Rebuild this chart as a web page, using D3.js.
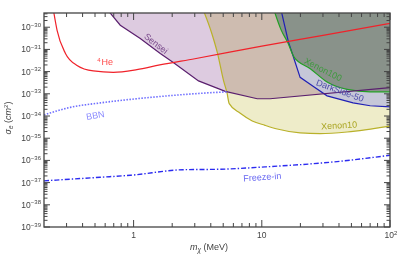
<!DOCTYPE html>
<html>
<head>
<meta charset="utf-8">
<script src="https://cdn.jsdelivr.net/npm/d3@7"></script>
<style>
  body { margin: 0; background: #fff; }
  text { font-family: "Liberation Sans", Arial, sans-serif; }
</style>
</head>
<body>
<div id="chart"></div>
<script>
// Mass in MeV, cross section in cm^2
const heMass = [0.238, 0.253, 0.294, 0.362, 0.485, 0.695, 1.06, 1.6, 3, 10, 30, 100];
const heSigma = [5e-30, 7.2e-31, 6.6e-32, 1.9e-32, 1.07e-32, 9.3e-33, 1.23e-32, 2.0e-32, 3.8e-32, 1.4e-31, 4.3e-31, 1.5e-30];

const senseiMass = [0.623, 0.787, 1.127, 1.615, 2.04, 3.21, 5.19, 9.21, 11.6, 100];
const senseiSigma = [6.3e-30, 1.23e-30, 3.1e-31, 6.6e-32, 2.6e-32, 3.8e-33, 1.29e-33, 6.0e-34, 6.0e-34, 1.9e-33];

const xenon10Mass = [3.48, 4.08, 4.52, 5.03, 5.35, 5.57, 6.79, 8.42, 10.6, 13.2, 19.9, 28.5, 46.3, 100];
const xenon10Sigma = [6.3e-30, 5.1e-31, 6.5e-32, 3.9e-33, 1.12e-33, 3.6e-34, 1.32e-34, 6.0e-35, 3.8e-35, 2.6e-35, 1.74e-35, 1.62e-35, 1.9e-35, 3.5e-35];

const xenon100Mass = [12.4, 14.2, 15.9, 17.9, 23.9, 32.3, 46.3, 70, 100];
const xenon100Sigma = [6.3e-30, 7.2e-31, 2.1e-31, 4.4e-32, 1.35e-32, 3.4e-33, 1.58e-33, 1.23e-33, 1.23e-33];

const darksideMass = [14.1, 16.15, 17.57, 19.9, 25.1, 32.3, 51.5, 70, 100];
const darksideSigma = [6.3e-30, 2.1e-31, 4.9e-32, 5.5e-33, 2.2e-33, 8.1e-34, 3.9e-34, 2.9e-34, 2.6e-34];

const bbnMass = [0.2, 0.321, 0.55, 0.942, 2.04, 3.31, 5.47];
const bbnSigma = [1.12e-34, 2.45e-34, 3.9e-34, 5.6e-34, 8.5e-34, 1.05e-33, 1.23e-33];

const freezeMass = [0.2, 0.55, 0.942, 2.44, 4.74, 10.6, 36, 100];
const freezeSigma = [1.2e-37, 1.74e-37, 2.14e-37, 3.8e-37, 4.0e-37, 5.1e-37, 8.5e-37, 1.7e-36];

const xTickValues = [1, 10, 100];
const xTickLabels = ["1", "10", "10"];
const xTickSups = ["", "", "2"];
const yTickExponents = [-39, -38, -37, -36, -35, -34, -33, -32, -31, -30];

// curve labels: text, mass, sigma, rotation
const labelText = ["He", "Sensei", "BBN", "Freeze-in", "Xenon10", "Xenon100", "DarkSide-50"];
const labelMass = [0.6, 1.5, 0.503, 10.1, 40.1, 30.1, 40.8];
const labelSigma = [2.6e-32, 1.85e-31, 1.07e-34, 1.8e-37, 3.8e-35, 1.26e-32, 1.4e-33];
const labelAngle = [0, 38, -10, -4, -3, 27, 20];
const labelColor = ["#ff4a4a", "#7a4a8c", "#8a8aff", "#6a6af2", "#aaa522", "#3f9a3f", "#4a4aa8"];

const margin = { top: 13, right: 9, bottom: 28, left: 44 },
  width = 399 - margin.left - margin.right,
  height = 255 - margin.top - margin.bottom;

const svg = d3.select("#chart")
  .append("svg")
  .attr("width", width + margin.left + margin.right)
  .attr("height", height + margin.top + margin.bottom)
  .append("g")
  .attr("transform", `translate(${margin.left},${margin.top})`);

const x = d3.scaleLog().domain([0.2, 100]).range([0, width]);
const y = d3.scaleLog().domain([1e-39, Math.pow(10, -29.36)]).range([height, 0]);

svg.append("clipPath").attr("id", "plot-clip")
  .append("rect").attr("width", width).attr("height", height);

const plot = svg.append("g").attr("clip-path", "url(#plot-clip)");

const zip = (ms, ss) => ms.map((m, i) => [m, ss[i]]);
const lineSmooth = d3.line().x(d => x(d[0])).y(d => y(d[1])).curve(d3.curveMonotoneX);
const lineStraight = d3.line().x(d => x(d[0])).y(d => y(d[1]));

const sigmaTop = 1e-29;

// region above a bound, closed along the top
function regionPath(ms, ss, gen) {
  const pts = zip(ms, ss);
  const last = pts[pts.length - 1];
  const first = pts[0];
  return gen(pts) + `L${x(last[0])},${y(sigmaTop)}L${x(first[0])},${y(sigmaTop)}Z`;
}

// Filled regions
plot.append("path")
  .attr("d", regionPath(senseiMass, senseiSigma, lineStraight))
  .attr("fill", "#ddcbe0")
  .style("mix-blend-mode", "multiply");

plot.append("path")
  .attr("d", regionPath(xenon10Mass, xenon10Sigma, lineSmooth))
  .attr("fill", "#eeecc9")
  .style("mix-blend-mode", "multiply");

plot.append("path")
  .attr("d", regionPath(darksideMass, darksideSigma, lineStraight))
  .attr("fill", "#c6c7d8");

plot.append("path")
  .attr("d", regionPath(xenon100Mass, xenon100Sigma, lineSmooth))
  .attr("fill", "#89928a");

// Curves
function drawLine(ms, ss, gen, color, w, dash) {
  plot.append("path")
    .attr("d", gen(zip(ms, ss)))
    .attr("fill", "none")
    .attr("stroke", color)
    .attr("stroke-width", w)
    .attr("stroke-dasharray", dash || null);
}

drawLine(xenon10Mass, xenon10Sigma, lineSmooth, "#b9b12a", 1.2);
drawLine(darksideMass, darksideSigma, lineStraight, "#2020b4", 1.2);
drawLine(xenon100Mass, xenon100Sigma, lineSmooth, "#22a022", 1.2);
drawLine(senseiMass, senseiSigma, lineStraight, "#5a1f6e", 1.2);
drawLine(heMass, heSigma, lineSmooth, "#f0222a", 1.2);
drawLine(bbnMass, bbnSigma, lineSmooth, "#6f6fff", 1.6, "1.5,1.5");
drawLine(freezeMass, freezeSigma, lineSmooth, "#2b2bf0", 1.4, "5,2,1.4,2");

// Curve labels
labelText.forEach((t, i) => {
  const lx = x(labelMass[i]), ly = y(labelSigma[i]);
  const txt = svg.append("text")
    .attr("transform", `translate(${lx},${ly}) rotate(${labelAngle[i]})`)
    .attr("text-anchor", "middle")
    .attr("dy", "0.35em")
    .attr("fill", labelColor[i])
    .style("font-size", "9px");
  if (t === "He") {
    txt.append("tspan").attr("dy", "-0.1em").style("font-size", "6px").text("4");
    txt.append("tspan").attr("dx", 1).attr("dy", "3").text("He");
  } else {
    txt.text(t);
  }
});

// Frame
svg.append("rect")
  .attr("width", width)
  .attr("height", height)
  .attr("fill", "none")
  .attr("stroke", "#444")
  .attr("stroke-width", 1.3);

// Ticks (inward, on all four sides)
const xMinor = [];
[0.1, 1, 10].forEach(d => { for (let j = 2; j <= 9; j++) { const v = j * d; if (v > 0.2 && v < 100) xMinor.push(v); } });
const yMinor = [];
for (let k = -40; k <= -30; k++) { for (let j = 2; j <= 9; j++) { const v = j * Math.pow(10, k); if (v > 1e-39 && v < y.domain()[1]) yMinor.push(v); } }
const yMajor = yTickExponents.map(e => Math.pow(10, e));

function tickGroup(values, len, side) {
  values.forEach(v => {
    let x1, x2, y1, y2;
    if (side === "bottom") { x1 = x2 = x(v); y1 = height; y2 = height - len; }
    if (side === "top") { x1 = x2 = x(v); y1 = 0; y2 = len; }
    if (side === "left") { y1 = y2 = y(v); x1 = 0; x2 = len; }
    if (side === "right") { y1 = y2 = y(v); x1 = width; x2 = width - len; }
    svg.append("line")
      .attr("x1", x1).attr("x2", x2).attr("y1", y1).attr("y2", y2)
      .attr("stroke", "#444").attr("stroke-width", 1);
  });
}
["bottom", "top"].forEach(s => { tickGroup(xTickValues, 7, s); tickGroup(xMinor, 4, s); });
["left", "right"].forEach(s => { tickGroup(yMajor, 6, s); tickGroup(yMinor, 3.5, s); });

// Tick labels
xTickValues.forEach((v, i) => {
  const t = svg.append("text")
    .attr("x", x(v) + (xTickSups[i] ? 1 : 0))
    .attr("y", height + 11)
    .attr("text-anchor", "middle")
    .attr("fill", "#444")
    .style("font-size", "8.5px")
    .text(xTickLabels[i]);
  if (xTickSups[i]) t.append("tspan").attr("dy", -3.5).style("font-size", "6px").text(xTickSups[i]);
});

yTickExponents.forEach((e, i) => {
  const t = svg.append("text")
    .attr("x", -3)
    .attr("y", y(yMajor[i]) + 3)
    .attr("text-anchor", "end")
    .attr("fill", "#444")
    .style("font-size", "8.5px")
    .text("10");
  t.append("tspan").attr("dy", -3.5).style("font-size", "6px").text("\u2212" + Math.abs(e));
});

// Axis titles
const xt = svg.append("text")
  .attr("x", 165)
  .attr("y", height + 23)
  .attr("text-anchor", "middle")
  .attr("fill", "#444")
  .style("font-size", "9px");
xt.append("tspan").style("font-style", "italic").text("m");
xt.append("tspan").attr("dy", 2).style("font-size", "6.5px").style("font-style", "italic").text("\u03c7");
xt.append("tspan").attr("dy", -2).text(" (MeV)");

const yt = svg.append("text")
  .attr("transform", `translate(${-margin.left + 11},${105}) rotate(-90)`)
  .attr("text-anchor", "middle")
  .attr("fill", "#444")
  .style("font-size", "9px");
yt.append("tspan").style("font-style", "italic").text("\u03c3");
yt.append("tspan").attr("dy", 2).style("font-size", "6.5px").style("font-style", "italic").text("e");
yt.append("tspan").attr("dy", -2).text(" (");
yt.append("tspan").style("font-style", "italic").text("cm");
yt.append("tspan").attr("dy", -3).style("font-size", "6px").text("2");
yt.append("tspan").attr("dy", 3).text(")");
</script>
</body>
</html>
